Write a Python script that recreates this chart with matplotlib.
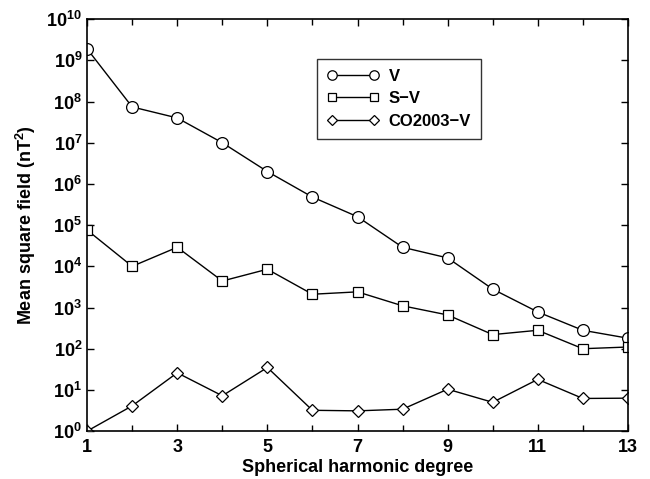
import math
import matplotlib
matplotlib.use("Agg")
import matplotlib.pyplot as plt
from matplotlib.ticker import FixedLocator, FuncFormatter, NullLocator

plt.rcParams['font.family'] = ['Liberation Sans', 'DejaVu Sans']
plt.rcParams['font.weight'] = 'bold'
plt.rcParams['mathtext.fontset'] = 'custom'
plt.rcParams['mathtext.rm'] = 'Liberation Sans:bold'
plt.rcParams['mathtext.bf'] = 'Liberation Sans:bold'

degree = list(range(1, 14))
v_vals = [1.9e9, 7.4e7, 4.0e7, 1.0e7, 2.0e6, 4.8e5, 1.6e5, 2.9e4, 1.6e4, 2.8e3, 7.8e2, 2.8e2, 1.8e2]
sv_vals = [7.6e4, 1.0e4, 2.9e4, 4.4e3, 8.5e3, 2.1e3, 2.4e3, 1.1e3, 6.6e2, 2.2e2, 2.8e2, 1.0e2, 1.1e2]
co_vals = [1.0, 4.1, 26, 7.2, 35, 3.2, 3.1, 3.4, 10.4, 5.0, 18, 6.2, 6.3]
labels = ['V', 'S\u2212V', 'CO2003\u2212V']

fig = plt.figure(figsize=(6.5, 4.79), dpi=100)
ax = fig.add_axes([0.134, 0.100, 0.832, 0.860])

common = dict(color='black', lw=1.0, mfc='white', mec='black', mew=0.9)
ax.plot(degree, v_vals, marker='o', ms=8.5, label=labels[0], **common)
ax.plot(degree, sv_vals, marker='s', ms=7.5, label=labels[1], **common)
ax.plot(degree, co_vals, marker='D', ms=6.5, label=labels[2], **common)

ax.set_yscale('log')
ax.set_xlim(1, 13)
ax.set_ylim(1, 1e10)
ax.yaxis.set_major_locator(FixedLocator([10.0**k for k in range(0, 11)]))
ax.yaxis.set_minor_locator(NullLocator())
ax.yaxis.set_major_formatter(FuncFormatter(lambda v, p: r'$\mathbf{10^{%d}}$' % round(math.log10(v))))
ax.xaxis.set_major_locator(FixedLocator([1, 3, 5, 7, 9, 11, 13]))
ax.xaxis.set_minor_locator(FixedLocator([2, 4, 6, 8, 10, 12]))

ax.tick_params(which='both', direction='in', top=True, right=True, labelsize=13, width=1)
ax.tick_params(which='major', length=5)
ax.tick_params(which='minor', length=4)
for lab in ax.get_xticklabels() + ax.get_yticklabels():
    lab.set_fontweight('bold')
ax.tick_params(axis='x', pad=6)
for s in ax.spines.values():
    s.set_linewidth(1.2)

ax.set_xlabel('Spherical harmonic degree', fontsize=13, fontweight='bold', labelpad=2)
ax.set_ylabel(r'Mean square field (nT$^{\mathbf{2}}$)', fontsize=13, fontweight='bold', labelpad=6)

leg = ax.legend(loc='upper left', bbox_to_anchor=(0.425, 0.904), frameon=True, fancybox=False,
                edgecolor='black', numpoints=2, markerscale=0.8, handlelength=3.1,
                borderpad=0.6, labelspacing=0.45, handletextpad=0.6, borderaxespad=0.0,
                prop={'weight': 'bold', 'size': 12})
leg.get_frame().set_linewidth(1.0)

fig.savefig('out.png', dpi=100)
